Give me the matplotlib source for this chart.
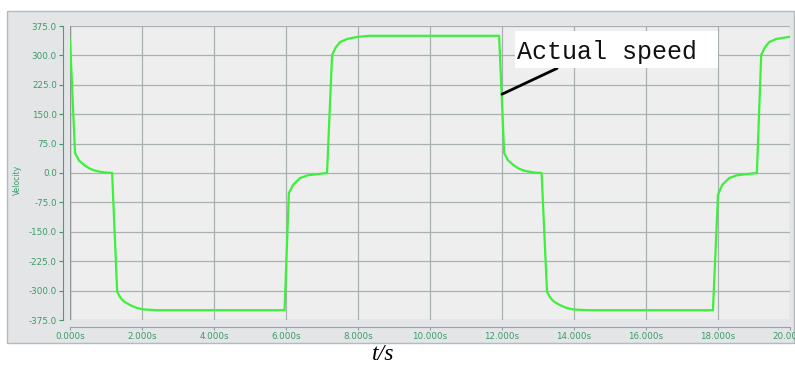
import matplotlib
matplotlib.use("Agg")
import matplotlib.pyplot as plt
from matplotlib.patches import Rectangle

# Data
time_s = [0.00, 0.14, 0.25, 0.40, 0.55, 0.70, 0.85, 1.00, 1.17,
          1.31, 1.40, 1.50, 1.67, 1.85, 2.03, 2.40, 5.96,
          6.08, 6.20, 6.39, 6.60, 6.86, 7.14,
          7.28, 7.38, 7.50, 7.70, 7.97, 8.30, 11.92,
          12.06, 12.17, 12.32, 12.47, 12.62, 12.77, 12.92, 13.10,
          13.25, 13.34, 13.44, 13.61, 13.79, 13.97, 14.34, 17.86,
          18.00, 18.12, 18.31, 18.52, 18.78, 19.08,
          19.20, 19.30, 19.42, 19.62, 19.97]
velocity = [340, 51, 32, 20, 11, 6, 3, 1, 0,
            -303, -318, -328, -337, -344, -348, -350, -350,
            -51, -30, -13, -6, -3, 0,
            301, 320, 334, 342, 347, 350, 350,
            51, 32, 20, 11, 6, 3, 1, 0,
            -303, -318, -328, -337, -344, -348, -350, -350,
            -55, -30, -13, -6, -3, 0,
            301, 320, 334, 342, 347]

y_ticks = [375, 300, 225, 150, 75, 0, -75, -150, -225, -300, -375]
x_ticks = [0, 2, 4, 6, 8, 10, 12, 14, 16, 18, 20]

W, H = 795, 367
fig = plt.figure(figsize=(W / 100, H / 100), dpi=100)
fig.patch.set_facecolor("white")

# outer gray panel
panel = Rectangle((7 / W, 1 - 343 / H), (794 - 7) / W, (343 - 11) / H,
                  transform=fig.transFigure, facecolor="#e3e5e7",
                  edgecolor="#b5babd", linewidth=1.0, zorder=-10)
fig.patches.append(panel)

ax = fig.add_axes([70 / W, 1 - 320 / H, (790 - 70) / W, (320 - 26) / H])
ax.set_zorder(1)
ax.set_facecolor("#eeeeee")
ax.plot(time_s, velocity, color="#3cf03c", linewidth=1.6, zorder=3)

ax.set_xlim(0, 20)
ax.set_ylim(-375, 375)
ax.set_xticks(x_ticks)
ax.set_xticklabels([f"{x:.3f}s" for x in x_ticks])
ax.set_yticks(y_ticks)
ax.set_yticklabels([f"{y:.1f}" for y in y_ticks])
ax.grid(True, color="#a9b0b0", linewidth=0.9)
ax.set_axisbelow(True)

for s in ["top", "right"]:
    ax.spines[s].set_visible(False)
ax.spines["left"].set_position(("outward", 5))
ax.spines["bottom"].set_position(("outward", 5))
ax.spines["left"].set_color("#4aa070")
ax.spines["bottom"].set_color("#9aa0a4")
ax.tick_params(axis="y", colors="#3c9a6a", labelsize=6.3, length=3, pad=1.5)
ax.tick_params(axis="x", colors="#9aa0a4", labelcolor="#3c9a6a",
               labelsize=6.3, length=2.5, pad=0.8)

# plot-area left border line
ax.axvline(0, color="#8e9696", linewidth=1.0, zorder=2)

fig.text(17 / W, 1 - 180 / H, "Velocity", rotation=90, ha="center",
         va="center", fontsize=5.5, color="#3c9a6a")

# annotation
ax.annotate("", xy=(11.93, 198), xytext=(13.6, 270),
            arrowprops=dict(arrowstyle="-", color="black", lw=2))
fig.patches.append(Rectangle((515 / W, 1 - 68 / H), (718 - 515) / W, (68 - 31) / H,
                             transform=fig.transFigure, facecolor="white",
                             edgecolor="none", zorder=5))
fig.text(517 / W, 1 - 52 / H, "Actual speed", ha="left", va="center",
         fontsize=18, family="Liberation Mono", color="#111111", zorder=6)

fig.text(383 / W, 1 - 354 / H, "t/s", ha="center", va="center",
         fontsize=17, family="Liberation Serif", style="italic", color="black")

fig.savefig("out.png", dpi=100)
